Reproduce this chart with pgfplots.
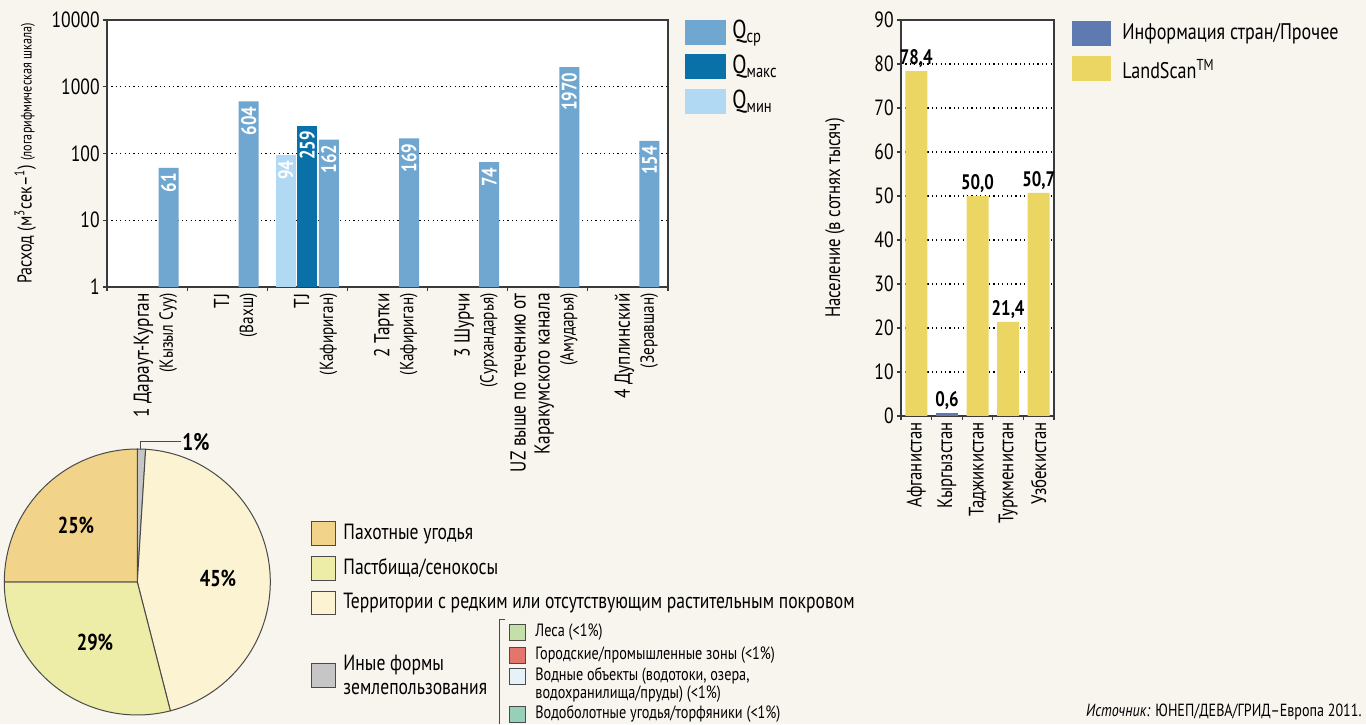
\documentclass[border=0pt]{standalone}
\usepackage{fontspec}
\setmainfont{PT Sans}[FakeStretch=0.8]
\usepackage{pgfplots}
\usepackage{pgfplotstable}
\pgfplotsset{compat=1.18}

\definecolor{bgc}{HTML}{F8F4EE}
\definecolor{axc}{HTML}{3A3A3A}
\definecolor{cQcp}{HTML}{70A7D0}
\definecolor{cQmax}{HTML}{0A71A8}
\definecolor{cQmin}{HTML}{B2D9F3}
\definecolor{cblue}{HTML}{5F79B1}
\definecolor{cyel}{HTML}{EBD664}
\definecolor{ptan}{HTML}{F2D38A}
\definecolor{pgreen}{HTML}{EEEDA8}
\definecolor{pcream}{HTML}{FCF3D3}
\definecolor{pgray}{HTML}{C6C6C6}
\definecolor{cles}{HTML}{C5DFA9}
\definecolor{cgor}{HTML}{E2766D}
\definecolor{cvod}{HTML}{E5F2FA}
\definecolor{cbol}{HTML}{97D0BA}
\definecolor{pline}{HTML}{4A4A4A}

\newcommand{\fa}{\fontsize{10.8}{14}\selectfont}
\newcommand{\fb}{\fontsize{9.5}{14}\selectfont}
\newcommand{\fc}{\fontsize{10.8}{12.5}\selectfont}
\newcommand{\fd}{\fontsize{9.5}{12.5}\selectfont}

\pgfplotstableread{
x y lab
0 61 61
1 604 604
2 162 162
3 169 169
4 74 74
5 1970 1970
6 154 154
}\qcp
\pgfplotstableread{
x y lab
2 259 259
}\qmax
\pgfplotstableread{
x y lab
2 94 94
}\qmin
\pgfplotstableread{
x y lab
0 78.4 78{,}4
2 50.0 50{,}0
3 21.4 21{,}4
4 50.7 50{,}7
}\popls
\pgfplotstableread{
x y lab
1 0.6 0{,}6
}\popcs
\pgfplotstableread{
name value
Prochee 1
Territorii 45
Pastbischa 29
Pakhotnye 25
}\piedata

\begin{document}
\begin{tikzpicture}
\path[use as bounding box, fill=bgc] (0,0) rectangle (683pt,362pt);

% ---------- Chart 1: discharge (log) ----------
\begin{axis}[
  at={(53.5pt,218.5pt)}, anchor=south west,
  scale only axis, width=280.5pt, height=133.5pt,
  axis background/.style={fill=white},
  ymode=log, ymin=1, ymax=10000,
  xmin=-0.5, xmax=6.5,
  ytick={1,10,100,1000,10000},
  yticklabels={1,10,100,1000,10000},
  yminorticks=false,
  xtick={-0.5,0.5,...,6.5},
  xticklabels={},
  extra x ticks={0.38,1.38,2.38,3.38,4.38,5.38,6.38},
  extra x tick labels={
    {\fa 1 Дараут-Курган\\\fb (Кызыл Суу)},
    {\fa TJ\\\fb (Вахш)},
    {\fa TJ\\\fb (Кафириган)},
    {\fa 2 Тартки\\\fb (Кафириган)},
    {\fa 3 Шурчи\\\fb (Сурхандарья)},
    {\fc UZ выше по течению от\\\fc Каракумского канала\\\fd (Амударья)},
    {\fa 4 Дуплинский\\\fb (Зеравшан)}},
  extra x tick style={major tick length=0pt},
  xticklabel style={yshift=-3pt, rotate=90, anchor=south east, align=right, inner sep=0pt},
  yticklabel style={font=\fontsize{11}{12}\selectfont, inner sep=1.5pt},
  tick align=outside, xtick pos=bottom, ytick pos=left,
  major tick length=2pt,
  axis line style={draw=axc, line width=0.6pt},
  tick style={draw=axc, line width=0.6pt},
  ymajorgrids, major grid style={black, dash pattern=on 0.6pt off 1.6pt, line width=0.6pt},
  ylabel={{\fontsize{10}{10}\selectfont Расход (м\textsuperscript{3}сек–\textsuperscript{1})} {\fontsize{7.6}{9}\selectfont (логарифмическая шкала)}},
  every axis y label/.style={at={(axis description cs:-0.146,0.5)}, rotate=90, anchor=center},
  clip=false,
]
\addplot[ybar, bar width=10pt, bar shift=10.75pt, fill=cQcp, draw=none,
  nodes near coords, point meta=explicit symbolic,
  nodes near coords style={xshift=10.75pt, rotate=90, anchor=east, text=white, font=\bfseries\fontsize{10.5}{10}\selectfont, inner sep=2.5pt}]
  table[x=x,y=y,meta=lab]{\qcp};
\addplot[ybar, bar width=10pt, bar shift=0pt, fill=cQmax, draw=none,
  nodes near coords, point meta=explicit symbolic,
  nodes near coords style={rotate=90, anchor=east, text=white, font=\bfseries\fontsize{10.5}{10}\selectfont, inner sep=2.5pt}]
  table[x=x,y=y,meta=lab]{\qmax};
\addplot[ybar, bar width=10pt, bar shift=-10.75pt, fill=cQmin, draw=none,
  nodes near coords, point meta=explicit symbolic,
  nodes near coords style={xshift=-10.75pt, rotate=90, anchor=east, text=white, font=\bfseries\fontsize{10.5}{10}\selectfont, inner sep=2.5pt}]
  table[x=x,y=y,meta=lab]{\qmin};
\end{axis}

% ---------- Chart 2: population ----------
\begin{axis}[
  at={(450.5pt,154pt)}, anchor=south west,
  scale only axis, width=76.5pt, height=198pt,
  axis background/.style={fill=white},
  ymin=0, ymax=90, xmin=-0.5, xmax=4.5,
  ytick={0,10,...,90},
  xtick={-0.5,0.5,...,4.5}, xticklabels={},
  extra x ticks={0,1,2,3,4},
  extra x tick labels={Афганистан,Кыргызстан,Таджикистан,Туркменистан,Узбекистан},
  extra x tick style={major tick length=0pt},
  xticklabel style={yshift=-3pt, rotate=90, anchor=east, inner sep=0pt, font=\fontsize{10.5}{12}\selectfont},
  yticklabel style={font=\fontsize{11}{12}\selectfont, inner sep=1.5pt},
  /pgf/number format/assume math mode=true,
  tick align=outside, xtick pos=bottom, ytick pos=left,
  major tick length=2pt,
  axis line style={draw=axc, line width=0.6pt},
  tick style={draw=axc, line width=0.6pt},
  ymajorgrids, major grid style={black, dash pattern=on 0.6pt off 1.6pt, line width=0.6pt},
  ylabel={\fontsize{10.5}{11}\selectfont Население (в сотнях тысяч)},
  every axis y label/.style={at={(axis description cs:-0.431,0.5)}, rotate=90, anchor=center},
  clip=false,
]
\addplot[ybar, bar width=11pt, bar shift=0pt, fill=cyel, draw=none,
  nodes near coords, point meta=explicit symbolic,
  nodes near coords style={anchor=south, text=black, font=\bfseries\fontsize{10.5}{10}\selectfont, inner sep=1.5pt}]
  table[x=x,y=y,meta=lab]{\popls};
\addplot[ybar, bar width=11pt, bar shift=0pt, fill=cblue, draw=none,
  nodes near coords, point meta=explicit symbolic,
  nodes near coords style={anchor=south, text=black, font=\bfseries\fontsize{10.5}{10}\selectfont, inner sep=1.5pt}]
  table[x=x,y=y,meta=lab]{\popcs};
\end{axis}

% ---------- Pie chart ----------
\pgfplotstablegetelem{0}{value}\of\piedata \let\vA\pgfplotsretval
\pgfplotstablegetelem{1}{value}\of\piedata \let\vB\pgfplotsretval
\pgfplotstablegetelem{2}{value}\of\piedata \let\vC\pgfplotsretval
\pgfplotstablegetelem{3}{value}\of\piedata \let\vD\pgfplotsretval
\pgfmathsetmacro{\aA}{90}
\pgfmathsetmacro{\aB}{\aA-3.6*\vA}
\pgfmathsetmacro{\aC}{\aB-3.6*\vB}
\pgfmathsetmacro{\aD}{\aC-3.6*\vC}
\pgfmathsetmacro{\aE}{\aD-3.6*\vD}
\begin{axis}[
  at={(0pt,0pt)}, anchor=south west, scale only axis,
  width=683pt, height=362pt, xmin=0, xmax=1366, ymin=0, ymax=724,
  enlargelimits=false, hide axis, clip=false]
\def\pr{66.5pt}
\filldraw[fill=pgray, draw=pline, line width=0.5pt] (axis cs:137.3,142) -- +(\aA:\pr) arc[start angle=\aA, end angle=\aB, radius=\pr] -- cycle;
\filldraw[fill=pcream, draw=pline, line width=0.5pt] (axis cs:137.3,142) -- +(\aB:\pr) arc[start angle=\aB, end angle=\aC, radius=\pr] -- cycle;
\filldraw[fill=pgreen, draw=pline, line width=0.5pt] (axis cs:137.3,142) -- +(\aC:\pr) arc[start angle=\aC, end angle=\aD, radius=\pr] -- cycle;
\filldraw[fill=ptan, draw=pline, line width=0.5pt] (axis cs:137.3,142) -- +(\aD:\pr) arc[start angle=\aD, end angle=\aE, radius=\pr] -- cycle;
\end{axis}

% ---------- Legends and texts (pixel coordinates) ----------
\begin{scope}[x=0.5pt, y=-0.5pt, shift={(0pt,362pt)}]
  % chart 1 legend
  \fill[cQcp] (685,20) rectangle (726,45);
  \fill[cQmax] (685,54) rectangle (726,79);
  \fill[cQmin] (685,89) rectangle (726,114);
  \node[anchor=west, inner sep=0] at (732,33) {\fontsize{13}{14}\selectfont Q\textsubscript{ср}};
  \node[anchor=west, inner sep=0] at (732,67) {\fontsize{13}{14}\selectfont Q\textsubscript{макс}};
  \node[anchor=west, inner sep=0] at (732,102) {\fontsize{13}{14}\selectfont Q\textsubscript{мин}};
  % chart 2 legend
  \fill[cblue] (1072,21) rectangle (1111,46);
  \fill[cyel] (1072,56) rectangle (1111,81);
  \node[anchor=west, inner sep=0] at (1122,34) {\fontsize{11.3}{12}\selectfont Информация стран/Прочее};
  \node[anchor=west, inner sep=0] at (1122,69) {\fontsize{11.3}{12}\selectfont LandScan\textsuperscript{TM}};
  % pie labels
  \node[inner sep=0] at (76,525) {\bfseries\fontsize{11.5}{12}\selectfont 25\%};
  \node[inner sep=0] at (95,642) {\bfseries\fontsize{11.5}{12}\selectfont 29\%};
  \node[inner sep=0] at (218,578) {\bfseries\fontsize{11.5}{12}\selectfont 45\%};
  \draw[pline, line width=0.5pt] (140.7,449) -- (140.7,441) -- (181,441);
  \node[anchor=west, inner sep=0] at (182,442) {\bfseries\fontsize{12}{12}\selectfont 1\%};
  % pie legend
  \filldraw[fill=ptan, draw=pline, line width=0.5pt] (311,521) rectangle (335,545);
  \filldraw[fill=pgreen, draw=pline, line width=0.5pt] (311,556) rectangle (335,580);
  \filldraw[fill=pcream, draw=pline, line width=0.5pt] (311,591) rectangle (335,614);
  \filldraw[fill=pgray, draw=pline, line width=0.5pt] (311,663) rectangle (335,687);
  \node[anchor=west, inner sep=0] at (343,534) {\fontsize{11}{12}\selectfont Пахотные угодья};
  \node[anchor=west, inner sep=0] at (343,568) {\fontsize{11}{12}\selectfont Пастбища/сенокосы};
  \node[anchor=west, inner sep=0] at (343,603) {\fontsize{11}{12}\selectfont Территории с редким или отсутствующим растительным покровом};
  \node[anchor=west, inner sep=0, align=left] at (343,675) {\fontsize{11}{12}\selectfont Иные формы\\\fontsize{11}{12}\selectfont землепользования};
  % bracket
  \draw[pline, line width=0.5pt] (505,619) -- (499,619) -- (499,724);
  % sub legend
  \filldraw[fill=cles, draw=pline, line width=0.4pt] (509,624) rectangle (525,640);
  \filldraw[fill=cgor, draw=pline, line width=0.4pt] (509,647) rectangle (525,663);
  \filldraw[fill=cvod, draw=pline, line width=0.4pt] (509,668) rectangle (525,684);
  \filldraw[fill=cbol, draw=pline, line width=0.4pt] (509,706) rectangle (525,722);
  \node[anchor=west, inner sep=0] at (535,632) {\fontsize{8.9}{10}\selectfont Леса (<1\%)};
  \node[anchor=west, inner sep=0] at (535,655) {\fontsize{8.9}{10}\selectfont Городские/промышленные зоны (<1\%)};
  \node[anchor=west, inner sep=0] at (535,676) {\fontsize{8.9}{10}\selectfont Водные объекты (водотоки, озера,};
  \node[anchor=west, inner sep=0] at (535,694) {\fontsize{8.9}{10}\selectfont водохранилища/пруды) (<1\%)};
  \node[anchor=west, inner sep=0] at (535,714) {\fontsize{8.9}{10}\selectfont Водоболотные угодья/торфяники (<1\%)};
  % source
  \node[anchor=east, inner sep=0] at (1362,712) {\fontsize{8.8}{10}\selectfont\textit{Источник:} ЮНЕП/ДЕВА/ГРИД–Европа 2011.};
\end{scope}
\end{tikzpicture}
\end{document}
